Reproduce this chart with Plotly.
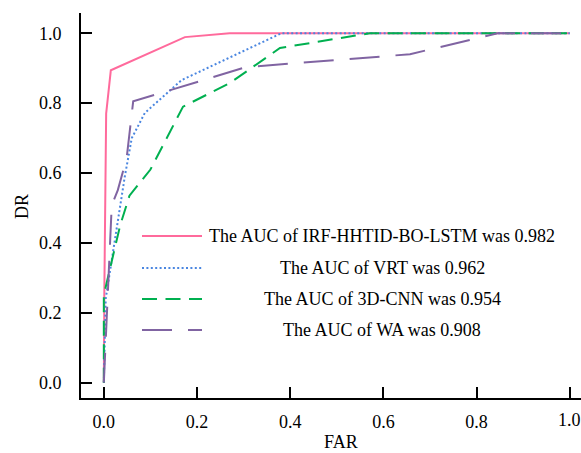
import plotly.graph_objects as go

# ---- data ----
irf_far = [0.0, 0.001, 0.005, 0.015, 0.174, 0.27, 1.0]
irf_dr  = [0.0, 0.25, 0.77, 0.894, 0.989, 1.0, 1.0]

vrt_far = [0.0, 0.004, 0.045, 0.06, 0.088, 0.167, 0.381, 1.0]
vrt_dr  = [0.0, 0.24, 0.59, 0.70, 0.772, 0.866, 1.0, 1.0]

cnn_far = [0.0, 0.0, 0.006, 0.035, 0.055, 0.10, 0.17, 0.27, 0.378, 0.571, 1.0]
cnn_dr  = [0.0, 0.25, 0.285, 0.45, 0.535, 0.61, 0.79, 0.857, 0.958, 1.0, 1.0]

wa_far = [0.0, 0.015, 0.017, 0.03, 0.049, 0.063, 0.305, 0.657, 0.845, 1.0]
wa_dr  = [0.0, 0.42, 0.508, 0.551, 0.643, 0.805, 0.903, 0.94, 1.0, 1.0]

names = ["The AUC of IRF-HHTID-BO-LSTM was 0.982",
         "The AUC of VRT was 0.962",
         "The AUC of 3D-CNN was 0.954",
         "The AUC of WA was 0.908"]
colors = ["#FF6A9C", "#4A86E0", "#00B050", "#8064A2"]
dashes = ["solid", "2px,2.4px", "15px,8.5px", "30px,16px"]

tick_vals = [0.0, 0.2, 0.4, 0.6, 0.8, 1.0]
tick_text = ["0.0", "0.2", "0.4", "0.6", "0.8", "1.0"]

FONT = "Liberation Serif"
FS = 18

fig = go.Figure()
series = [(irf_far, irf_dr), (vrt_far, vrt_dr), (cnn_far, cnn_dr), (wa_far, wa_dr)]
for (xs, ys), nm, c, d in zip(series, names, colors, dashes):
    fig.add_trace(go.Scatter(x=xs, y=ys, mode="lines", name=nm,
                             line=dict(color=c, width=2, dash=d),
                             showlegend=False, hoverinfo="skip"))

W, H = 581, 453
L, R, T, B = 81, 0, 13, 55
pw, ph = W - L - R, H - T - B

def px_x(px):
    return (px - L) / pw

def px_y(py):
    return (H - B - py) / ph

# manual legend (centered entry text, as in the reference)
rows = [236, 268, 299, 330]
shapes = []
annotations = []
for nm, c, d, ry in zip(names, colors, dashes, rows):
    shapes.append(dict(type="line", xref="paper", yref="paper",
                       x0=px_x(142), x1=px_x(202), y0=px_y(ry), y1=px_y(ry),
                       line=dict(color=c, width=2, dash=d)))
    annotations.append(dict(text=nm, xref="paper", yref="paper",
                            x=px_x(382), y=px_y(ry), xanchor="center", yanchor="middle",
                            showarrow=False, font=dict(family=FONT, size=FS, color="black")))

annotations.append(dict(text="FAR", xref="paper", yref="paper",
                        x=px_x(341), y=px_y(442), xanchor="center", yanchor="middle",
                        showarrow=False, font=dict(family=FONT, size=FS, color="black")))
annotations.append(dict(text="DR", xref="paper", yref="paper",
                        x=px_x(22), y=px_y(207), xanchor="center", yanchor="middle",
                        textangle=-90, showarrow=False,
                        font=dict(family=FONT, size=FS, color="black")))
# the last x tick label sits at the page edge (partly cut in the reference)
annotations.append(dict(text=tick_text[-1], xref="x", yref="paper",
                        x=tick_vals[-1], y=px_y(420), xanchor="center", yanchor="middle",
                        showarrow=False, font=dict(family=FONT, size=FS, color="black")))

axis_common = dict(showgrid=False, zeroline=False, showline=True, linecolor="black",
                   linewidth=2, ticks="inside", ticklen=11, tickwidth=2, tickcolor="black",
                   tickvals=tick_vals, ticktext=tick_text,
                   tickfont=dict(family=FONT, size=FS, color="black"), automargin=False)

fig.update_layout(
    width=W, height=H,
    margin=dict(l=L, r=R, t=T, b=B),
    paper_bgcolor="white", plot_bgcolor="white",
    xaxis=dict(range=[-0.049, 1.024], ticklabelstandoff=6, **axis_common),
    yaxis=dict(range=[-0.044, 1.058], ticklabelstandoff=14, **axis_common),
    shapes=shapes, annotations=annotations,
    font=dict(family=FONT),
)

fig.write_html("out.html", config={"displayModeBar": False, "staticPlot": True},
               post_script="document.body.style.margin='0';document.body.style.padding='0';document.body.style.overflow='hidden';")
